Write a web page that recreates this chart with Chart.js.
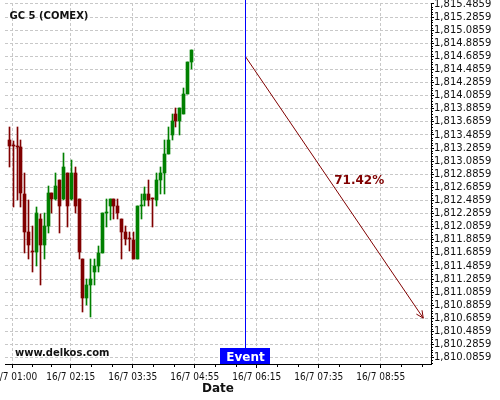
<!DOCTYPE html>
<html>
<head>
<title>GC 5 (COMEX)</title>
<script src="https://cdn.jsdelivr.net/npm/chart.js@4.4.0/dist/chart.umd.min.js"></script>
<style>
body { margin: 0; background: #fff; }
#wrap { width: 500px; height: 400px; }
</style>
</head>
<body>
<div id="wrap"><canvas id="myChart" width="500" height="400"></canvas></div>
<script>
// 5 minute candles
var times = ['00:55','01:00','01:05','01:10','01:15','01:20','01:25','01:30','01:35','01:40','01:45','01:50',
             '01:55','02:00','02:05','02:10','02:15','02:20','02:25','02:30','02:35','02:40','02:45','02:50',
             '02:55','03:00','03:05','03:10','03:15','03:20','03:25','03:30','03:35','03:40','03:45','03:50',
             '03:55','04:00','04:05','04:10','04:15','04:20','04:25','04:30','04:35','04:40','04:45','04:50'];
var opens  = [1813.41,1813.33,1813.32,1813.30,1812.59,1812.00,1811.72,1811.70,1812.20,1811.81,1812.10,1812.60,
              1812.51,1812.80,1812.51,1812.90,1812.51,1812.90,1812.51,1811.60,1810.99,1811.19,1811.39,1811.49,
              1811.69,1812.30,1812.40,1812.51,1812.40,1812.20,1812.00,1811.91,1811.89,1811.60,1812.40,1812.50,
              1812.59,1812.52,1812.50,1812.80,1812.90,1813.20,1813.49,1813.80,1813.70,1813.80,1814.11,1814.60];
var highs  = [1813.60,1813.40,1813.60,1813.41,1812.90,1812.50,1812.09,1812.39,1812.28,1812.29,1812.71,1812.60,
              1812.90,1812.80,1813.21,1812.90,1813.10,1812.99,1812.51,1811.60,1811.29,1811.60,1811.60,1811.79,
              1812.29,1812.51,1812.51,1812.51,1812.51,1812.20,1812.09,1812.00,1812.00,1812.40,1812.59,1812.69,
              1812.80,1812.52,1812.90,1813.00,1813.41,1813.60,1813.80,1813.89,1813.89,1814.20,1814.60,1814.79];
var lows   = [1812.99,1812.39,1812.50,1812.39,1811.69,1811.60,1811.39,1811.49,1811.19,1811.60,1811.99,1812.29,
              1812.49,1811.99,1812.50,1812.08,1812.50,1812.29,1811.60,1810.78,1810.89,1810.70,1811.19,1811.39,
              1811.68,1812.08,1812.19,1812.20,1812.20,1811.60,1811.80,1811.72,1811.60,1811.60,1812.20,1812.40,
              1812.40,1812.08,1812.40,1812.59,1812.59,1813.20,1813.41,1813.60,1813.49,1813.80,1814.11,1814.50];
var closes = [1813.31,1813.32,1813.31,1812.60,1812.01,1811.81,1811.71,1812.29,1811.81,1812.09,1812.60,1812.51,
              1812.71,1812.40,1813.00,1812.40,1812.90,1812.40,1811.70,1810.99,1811.19,1811.29,1811.49,1811.69,
              1812.29,1812.31,1812.51,1812.40,1812.30,1812.01,1811.90,1811.90,1811.60,1812.40,1812.41,1812.59,
              1812.50,1812.51,1812.80,1812.90,1813.20,1813.41,1813.70,1813.70,1813.89,1814.11,1814.60,1814.79];

var xTickTimes = ['01:00','02:15','03:35','04:55','06:15','07:35','08:55'];
var yTickValues = [1810.0859,1810.2859,1810.4859,1810.6859,1810.8859,1811.0859,1811.2859,1811.4859,
                   1811.6859,1811.8859,1812.0859,1812.2859,1812.4859,1812.6859,1812.8859,1813.0859,
                   1813.2859,1813.4859,1813.6859,1813.8859,1814.0859,1814.2859,1814.4859,1814.6859,
                   1814.8859,1815.0859,1815.2859,1815.4859];
var dayLabel = '16/7';
var xStart = '00:50', xEnd = '10:00';
var yMin = 1809.99, yMax = 1815.50;

var eventTime = '06:00';
var arrowTimes = ['06:00', '09:50'];
var arrowPrices = [1814.69, 1810.69];
var arrowLabel = '71.42%';

var RED = '#800000', GREEN = '#008000', BLUE = '#0000ff';

function toMin(t) {
    var p = t.split(':');
    return parseInt(p[0], 10) * 60 + parseInt(p[1], 10);
}
function fmtMin(m) {
    var h = Math.floor(m / 60), mm = Math.round(m % 60);
    return (h < 10 ? '0' : '') + h + ':' + (mm < 10 ? '0' : '') + mm;
}

var candleColors = [];
var bodies = [], wicks = [];
for (var i = 0; i < times.length; i++) {
    var x = toMin(times[i]);
    bodies.push({x: x, y: [opens[i], closes[i]]});
    wicks.push({x: x, y: [lows[i], highs[i]]});
    candleColors.push(closes[i] >= opens[i] ? GREEN : RED);
}

// snap candle bars to whole pixels so they stay crisp
var snapBars = {
    id: 'snapBars',
    beforeDatasetsDraw: function(chart) {
        [0, 1].forEach(function(d) {
            chart.getDatasetMeta(d).data.forEach(function(el) {
                el.x = Math.round(el.x) + 0.5;
                var top = Math.round(Math.min(el.y, el.base));
                var bot = Math.round(Math.max(el.y, el.base));
                if (bot - top < 1) bot = top + 1;
                el.y = top;
                el.base = bot;
            });
        });
    }
};

// extra drawing: minor ticks, event marker, arrow head, texts
var overlay = {
    id: 'overlay',
    afterDraw: function(chart) {
        var ctx = chart.ctx, xs = chart.scales.x, ys = chart.scales.y, area = chart.chartArea;
        ctx.save();
        ctx.setLineDash([]);

        // minor ticks on x
        ctx.strokeStyle = '#000';
        ctx.lineWidth = 1;
        var majors = xTickTimes.map(toMin);
        ctx.beginPath();
        for (var k = 0; k < majors.length; k++) {
            var a = majors[k];
            var b = k < majors.length - 1 ? majors[k + 1] : majors[k] + (majors[k] - majors[k - 1]);
            for (var s = 1; s < 3; s++) {
                var px = Math.round(xs.getPixelForValue(a + (b - a) * s / 3)) + 0.5;
                if (px > area.right) continue;
                ctx.moveTo(px, area.bottom);
                ctx.lineTo(px, area.bottom + 3);
            }
        }
        // minor ticks on y
        for (var j = 0; j < yTickValues.length; j++) {
            for (var q = 1; q < 5; q++) {
                var v = yTickValues[j] - 0.04 * q;
                if (v < yMin) continue;
                var py = Math.round(ys.getPixelForValue(v)) + 0.5;
                ctx.moveTo(area.right, py);
                ctx.lineTo(area.right + 2, py);
            }
        }
        ctx.stroke();

        // event line and box
        var ex = Math.round(xs.getPixelForValue(toMin(eventTime)));
        ctx.fillStyle = BLUE;
        ctx.fillRect(ex, 0, 1, area.bottom);
        ctx.fillRect(ex - 25, area.bottom - 16, 50, 16);
        ctx.fillStyle = '#fff';
        ctx.font = 'bold 12px "DejaVu Sans"';
        ctx.textAlign = 'center';
        ctx.textBaseline = 'alphabetic';
        ctx.fillText('Event', ex + 0.5, area.bottom - 3.5);

        // arrow head and percentage
        var x1 = xs.getPixelForValue(toMin(arrowTimes[0])), y1 = ys.getPixelForValue(arrowPrices[0]);
        var x2 = xs.getPixelForValue(toMin(arrowTimes[1])), y2 = ys.getPixelForValue(arrowPrices[1]);
        var ang = Math.atan2(y2 - y1, x2 - x1);
        ctx.strokeStyle = RED;
        ctx.beginPath();
        ctx.moveTo(x2 - 8 * Math.cos(ang - 0.44), y2 - 8 * Math.sin(ang - 0.44));
        ctx.lineTo(x2, y2);
        ctx.lineTo(x2 - 8 * Math.cos(ang + 0.44), y2 - 8 * Math.sin(ang + 0.44));
        ctx.stroke();
        ctx.fillStyle = RED;
        ctx.textAlign = 'left';
        ctx.fillText(arrowLabel, (x1 + x2) / 2, (y1 + y2) / 2 - 3);

        // title and watermark
        ctx.fillStyle = '#111';
        ctx.font = 'bold 10px "DejaVu Sans"';
        ctx.fillText('GC 5 (COMEX)', 9.5, 19);
        ctx.fillText('www.delkos.com', 15, 356);
        ctx.restore();
    }
};

var ctx = document.getElementById('myChart').getContext('2d');
var myChart = new Chart(ctx, {
    type: 'bar',
    data: {
        datasets: [
            {data: bodies, backgroundColor: candleColors, barThickness: 3, grouped: false, borderWidth: 0},
            {data: wicks, backgroundColor: candleColors, barThickness: 1, grouped: false, borderWidth: 0},
            {type: 'line', data: [{x: toMin(arrowTimes[0]), y: arrowPrices[0]}, {x: toMin(arrowTimes[1]), y: arrowPrices[1]}],
             borderColor: RED, borderWidth: 1, pointRadius: 0, fill: false}
        ]
    },
    options: {
        responsive: false,
        devicePixelRatio: 1,
        animation: false,
        layout: {padding: {left: 5, top: 3, right: 0, bottom: 0}},
        plugins: {legend: {display: false}, tooltip: {enabled: false}},
        scales: {
            x: {
                type: 'linear',
                min: toMin(xStart),
                max: toMin(xEnd),
                offset: false,
                grid: {color: '#c8c8c8', offset: false, tickLength: 4, tickColor: '#000'},
                border: {display: true, color: '#000', width: 1, dash: [3, 2]},
                ticks: {
                    autoSkip: false, maxRotation: 0, padding: 3, color: '#111',
                    font: {family: '"DejaVu Sans Condensed", "DejaVu Sans"', size: 10},
                    callback: function(v) { return dayLabel + ' ' + fmtMin(v); }
                },
                title: {display: true, text: 'Date', color: '#111',
                        font: {family: 'DejaVu Sans', size: 12, weight: 'bold'}, padding: {top: 0, bottom: 4}},
                afterBuildTicks: function(s) { s.ticks = xTickTimes.map(function(t) { return {value: toMin(t)}; }); },
                afterFit: function(s) { s.height = 36; s.paddingLeft = 0; s.paddingRight = 0; }
            },
            y: {
                type: 'linear',
                position: 'right',
                min: yMin,
                max: yMax,
                beginAtZero: false,
                grid: {color: '#c8c8c8', tickLength: 3, tickColor: '#000'},
                border: {display: true, color: '#000', width: 1, dash: [3, 2]},
                ticks: {
                    autoSkip: false, padding: 0, color: '#111',
                    font: {family: 'DejaVu Sans', size: 10},
                    callback: function(v) { return v.toLocaleString('en-US', {minimumFractionDigits: 4, maximumFractionDigits: 4}); }
                },
                afterBuildTicks: function(s) { s.ticks = yTickValues.map(function(v) { return {value: v}; }); },
                afterFit: function(s) { s.width = 69; s.paddingTop = 0; s.paddingBottom = 0; }
            }
        }
    },
    plugins: [snapBars, overlay]
});
</script>
</body>
</html>
